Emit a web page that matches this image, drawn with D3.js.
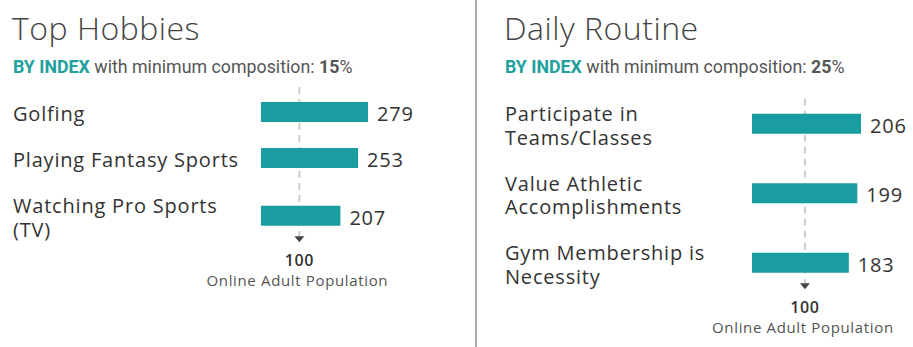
<!DOCTYPE html>
<html>
<head>
<meta charset="utf-8">
<script src="https://cdn.jsdelivr.net/npm/d3@7/dist/d3.min.js"></script>
<style>
  html, body { margin: 0; padding: 0; background: #fff; }
  svg { display: block; }
</style>
</head>
<body>
<svg id="chart" width="913" height="347"></svg>
<script>
// Index data for the two panels
const hobbyCategories = ["Golfing", "Playing Fantasy Sports", "Watching Pro Sports\n(TV)"];
const hobbyValues = [279, 253, 207];
const routineCategories = ["Participate in\nTeams/Classes", "Value Athletic\nAccomplishments", "Gym Membership is\nNecessity"];
const routineValues = [206, 199, 183];
const panelTitles = ["Top Hobbies", "Daily Routine"];
const minComposition = [15, 25];
const referenceValue = 100;
const referenceLabel = "Online Adult Population";

const TEAL = "#1a9da0";
const LABEL_FONT = "'Open Sans', 'Noto Sans', sans-serif";
const SUB_FONT = "Roboto, 'Noto Sans', sans-serif";

const svg = d3.select("#chart");

// vertical divider between the panels
svg.append("line")
  .attr("x1", 476).attr("x2", 476)
  .attr("y1", 0).attr("y2", 347)
  .attr("stroke", "#aaaaaa").attr("stroke-width", 2);

function drawPanel(opts) {
  const g = svg.append("g");
  const { left, barStart, barEnd, categories, values, title, minComp } = opts;

  g.append("text")
    .attr("x", left - 1).attr("y", 40)
    .attr("font-family", LABEL_FONT)
    .attr("font-weight", 300)
    .attr("font-size", 32)
    .attr("letter-spacing", 0.5)
    .attr("fill", "#444")
    .text(title);

  const sub = g.append("text")
    .attr("x", left).attr("y", 73)
    .attr("font-family", SUB_FONT)
    .attr("font-size", 17.8)
    .attr("fill", "#555");
  sub.append("tspan").attr("font-weight", 700).attr("fill", "#21a09e").text("BY INDEX");
  sub.append("tspan").text(" with minimum composition: ");
  sub.append("tspan").attr("font-weight", 700).text(minComp);
  sub.append("tspan").text("%");

  const x = d3.scaleLinear()
    .domain([0, d3.max(values)])
    .range([barStart, barEnd]);

  // rows grow with the number of label lines
  const lineH = 23.5, rowPad = 22.5, barH = 20;
  const rows = [];
  let top = 89;
  categories.forEach((c, i) => {
    const lines = c.split("\n");
    const h = lines.length * lineH + rowPad;
    rows.push({ lines, value: values[i], cy: top + h / 2 });
    top += h;
  });

  const refX = x(referenceValue);
  const firstTop = rows[0].cy - barH / 2;
  const lastBottom = rows[rows.length - 1].cy + barH / 2;

  // reference line at index 100
  g.append("line")
    .attr("x1", refX).attr("x2", refX)
    .attr("y1", firstTop - 15).attr("y2", lastBottom + 11)
    .attr("stroke", "#cccccc").attr("stroke-width", 2)
    .attr("stroke-dasharray", "7,5");

  const row = g.selectAll("g.row").data(rows).join("g").attr("class", "row");

  row.append("rect")
    .attr("x", barStart)
    .attr("y", d => d.cy - barH / 2)
    .attr("width", d => x(d.value) - barStart)
    .attr("height", barH)
    .attr("fill", TEAL);

  row.append("text")
    .attr("x", d => x(d.value) + 9)
    .attr("y", d => d.cy + 9.2)
    .attr("font-family", LABEL_FONT)
    .attr("font-size", 20)
    .attr("letter-spacing", 0.8)
    .attr("fill", "#333")
    .text(d => d.value);

  row.append("text")
    .attr("font-family", LABEL_FONT)
    .attr("font-size", 20)
    .attr("letter-spacing", 0.8)
    .attr("fill", "#333")
    .selectAll("tspan")
    .data(d => d.lines.map((t, i) => ({ t, y: d.cy + 9.2 + (i - (d.lines.length - 1) / 2) * lineH })))
    .join("tspan")
    .attr("x", left)
    .attr("y", d => d.y)
    .text(d => d.t);

  // arrow and reference caption
  const ay = lastBottom + 10.5;
  g.append("path")
    .attr("d", `M${refX - 5},${ay} L${refX + 5},${ay} L${refX},${ay + 6} Z`)
    .attr("fill", "#444");

  g.append("text")
    .attr("x", refX).attr("y", lastBottom + 40)
    .attr("text-anchor", "middle")
    .attr("font-family", LABEL_FONT)
    .attr("font-weight", 600)
    .attr("font-size", 16)
    .attr("letter-spacing", 0.6)
    .attr("fill", "#333")
    .text(referenceValue);

  g.append("text")
    .attr("x", refX - 2).attr("y", lastBottom + 60.5)
    .attr("text-anchor", "middle")
    .attr("font-family", LABEL_FONT)
    .attr("font-size", 15)
    .attr("letter-spacing", 0.65)
    .attr("fill", "#555")
    .text(referenceLabel);
}

drawPanel({
  left: 13, barStart: 261, barEnd: 368,
  categories: hobbyCategories, values: hobbyValues,
  title: panelTitles[0], minComp: minComposition[0]
});

drawPanel({
  left: 505, barStart: 752, barEnd: 861,
  categories: routineCategories, values: routineValues,
  title: panelTitles[1], minComp: minComposition[1]
});
</script>
</body>
</html>
